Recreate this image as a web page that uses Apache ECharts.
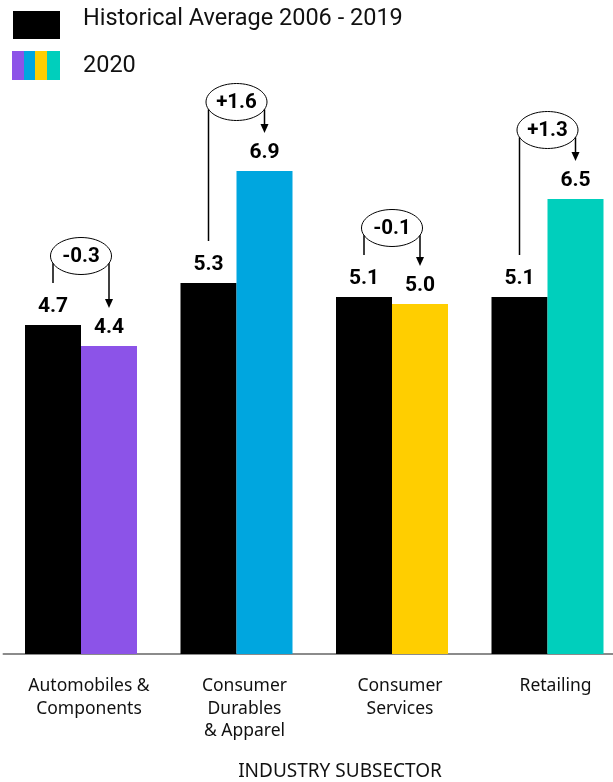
<!DOCTYPE html>
<html>
<head>
<meta charset="utf-8">
<script src="https://cdn.jsdelivr.net/npm/echarts@6/dist/echarts.min.js"></script>
<style>
html,body{margin:0;padding:0;background:#fff;}
#chart{width:613px;height:782px;}
</style>
</head>
<body>
<div id="chart"></div>
<script>
// ---- data ----
const categories = ['Automobiles &\nComponents', 'Consumer\nDurables\n& Apparel', 'Consumer\nServices', 'Retailing'];
const historical = [4.7, 5.3, 5.1, 5.1];
const values2020 = [4.4, 6.9, 5.0, 6.5];
const changes = ['-0.3', '+1.6', '-0.1', '+1.3'];
const seriesNames = ['Historical Average 2006 - 2019', '2020'];
const axisTitle = 'INDUSTRY SUBSECTOR';

// ---- style ----
const FONT = 'Roboto, "Noto Sans", sans-serif';
const FONT2 = '"Noto Sans", Roboto, sans-serif';
const colors2020 = ['#8c53e8', '#00a6df', '#ffce00', '#00cfbc'];
const BAR_W = 56;

const chart = echarts.init(document.getElementById('chart'));

function renderAnnotation(params, api) {
  const i = params.dataIndex;
  const cx = api.coord([api.value(0), 0])[0];
  const yh = api.coord([api.value(0), api.value(1)])[1];
  const yv = api.coord([api.value(0), api.value(2)])[1];
  const top = Math.min(yh, yv);
  const cy = top - 69;
  const rx = 30.5, ry = 18.5;
  const lx = cx - BAR_W / 2, rxp = cx + BAR_W / 2;
  const edgeY = function (x) {
    const d = (x - cx) / rx;
    return cy + ry * Math.sqrt(Math.max(0, 1 - d * d));
  };
  const leftEnd = yh - 42;
  const tipY = yv - 38;
  const ah = 9, aw = 4;
  return {
    type: 'group',
    children: [
      { type: 'ellipse', shape: { cx: cx, cy: cy, rx: rx, ry: ry },
        style: { fill: '#fff', stroke: '#000', lineWidth: 1 } },
      { type: 'text', x: cx, y: cy + 1,
        style: { text: changes[i], font: 'bold 20.5px ' + FONT, fill: '#000', align: 'center', verticalAlign: 'middle' } },
      { type: 'line', shape: { x1: lx, y1: edgeY(lx), x2: lx, y2: leftEnd },
        style: { stroke: '#000', lineWidth: 1.5 } },
      { type: 'line', shape: { x1: rxp, y1: edgeY(rxp), x2: rxp, y2: tipY - ah + 1 },
        style: { stroke: '#000', lineWidth: 1.5 } },
      { type: 'polygon', shape: { points: [[rxp - aw, tipY - ah], [rxp + aw, tipY - ah], [rxp, tipY]] },
        style: { fill: '#000' } }
    ]
  };
}

const valueLabel = {
  show: true, position: 'top', distance: 8, fontSize: 21, fontWeight: 'bold', color: '#000', fontFamily: FONT,
  formatter: function (p) { return p.value.toFixed(1); }
};

const option = {
  backgroundColor: '#fff',
  animation: false,
  textStyle: { fontFamily: FONT },
  grid: { left: 3.25, right: -12.25, top: 94, bottom: 128, containLabel: false, outerBoundsMode: 'none' },
  xAxis: {
    type: 'category',
    data: categories,
    axisLine: { lineStyle: { color: '#666', width: 1.5 } },
    axisTick: { show: false },
    axisLabel: { interval: 0, hideOverlap: false, fontSize: 17.5, lineHeight: 22.5, color: '#111', margin: 21, padding: [0, 0, 0, 16], fontFamily: FONT2 }
  },
  yAxis: { type: 'value', min: 0, max: 8, show: false, splitLine: { show: false } },
  series: [
    {
      name: seriesNames[0], type: 'bar', data: historical, barWidth: BAR_W, barGap: '0%',
      itemStyle: { color: '#000' }, label: valueLabel
    },
    {
      name: seriesNames[1], type: 'bar', data: values2020, barWidth: BAR_W,
      itemStyle: { color: function (p) { return colors2020[p.dataIndex]; } }, label: valueLabel
    },
    {
      type: 'custom', renderItem: renderAnnotation, clip: false, z: 10,
      data: categories.map(function (c, i) { return [i, historical[i], values2020[i]]; }),
      encode: { x: 0, y: [1, 2] }
    }
  ],
  graphic: [
    { type: 'rect', left: 13, top: 11, shape: { width: 47, height: 28 }, style: { fill: '#000' } },
    { type: 'rect', left: 12, top: 51, shape: { width: 12, height: 29 }, style: { fill: colors2020[0] } },
    { type: 'rect', left: 24, top: 51, shape: { width: 11, height: 29 }, style: { fill: colors2020[1] } },
    { type: 'rect', left: 35, top: 51, shape: { width: 12, height: 29 }, style: { fill: colors2020[2] } },
    { type: 'rect', left: 47, top: 51, shape: { width: 13, height: 29 }, style: { fill: colors2020[3] } },
    { type: 'text', x: 83, y: 19, style: { text: seriesNames[0], font: '23.5px ' + FONT, fill: '#111', verticalAlign: 'middle' } },
    { type: 'text', x: 83, y: 66.5, style: { text: seriesNames[1], font: '23.5px ' + FONT, fill: '#111', verticalAlign: 'middle' } },
    { type: 'text', x: 340, y: 772, style: { text: axisTitle, font: '19px ' + FONT2, fill: '#111', align: 'center', verticalAlign: 'middle' } }
  ]
};
chart.setOption(option);
</script>
</body>
</html>
